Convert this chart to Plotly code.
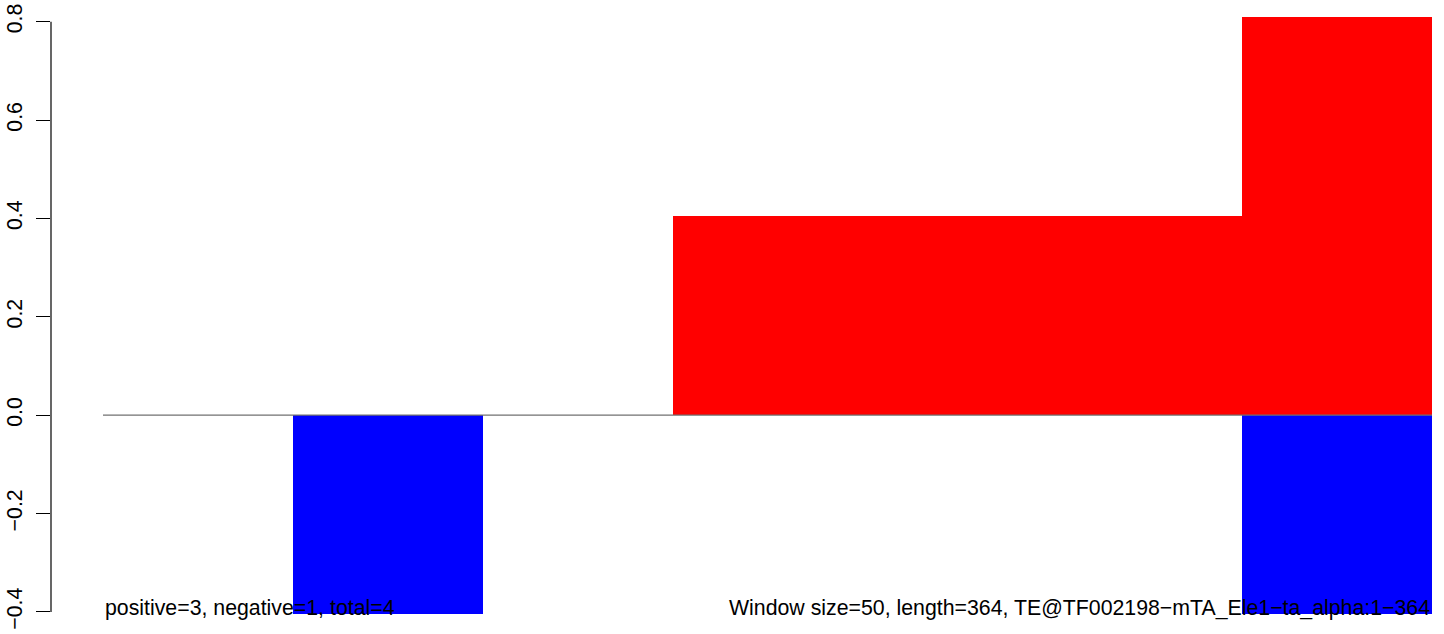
import plotly.graph_objects as go

# Data
window_starts = [0, 50, 100, 150, 200, 250, 300]
window_size = 50
positive_vals = [0, 0, 0, 0.405, 0.405, 0.405, 0.81]
negative_vals = [0, -0.405, 0, 0, 0, 0, -0.405]
y_tickvals = [-0.4, -0.2, 0.0, 0.2, 0.4, 0.6, 0.8]
y_ticktext = ["\u22120.4", "\u22120.2", "0.0", "0.2", "0.4", "0.6", "0.8"]
left_label = "positive=3, negative=1, total=4"
right_label = "Window size=50, length=364, TE@TF002198\u2212mTA_Ele1\u2212ta_alpha:1\u2212364"

centers = [s + window_size / 2 for s in window_starts]
x_end = window_starts[-1] + window_size

FONT = "Liberation Sans, Arial, Helvetica, sans-serif"
FS = 21.3

fig = go.Figure()

# zero line under the bars
fig.add_trace(go.Scatter(
    x=[0, x_end], y=[0, 0], mode="lines",
    line=dict(color="#707070", width=1.2),
    hoverinfo="skip", showlegend=False,
))

fig.add_trace(go.Bar(
    x=centers, y=positive_vals, width=window_size,
    marker=dict(color="#FF0000", line=dict(width=0)),
    showlegend=False,
))
fig.add_trace(go.Bar(
    x=centers, y=negative_vals, width=window_size,
    marker=dict(color="#0000FF", line=dict(width=0)),
    showlegend=False,
))

# left axis line spanning only the tick range
fig.add_shape(type="line", xref="paper", yref="y",
              x0=0, x1=0, y0=min(y_tickvals), y1=max(y_tickvals),
              line=dict(color="black", width=1.2))

fig.add_annotation(x=0, y=-0.392, xref="x", yref="y", text=left_label,
                   showarrow=False, xanchor="left", yanchor="middle",
                   font=dict(family=FONT, size=FS, color="black"))
fig.add_annotation(x=x_end, y=-0.392, xref="x", yref="y", text=right_label,
                   showarrow=False, xanchor="right", yanchor="middle",
                   font=dict(family=FONT, size=FS, color="black"))

fig.update_layout(
    width=1444, height=634,
    margin=dict(l=51, r=0, t=0, b=0, autoexpand=False),
    paper_bgcolor="white", plot_bgcolor="white",
    barmode="overlay",
    bargap=0,
    hovermode=False,
    font=dict(family=FONT, size=FS, color="black"),
    xaxis=dict(range=[-13.69, 353.16], visible=False, showgrid=False,
               zeroline=False, automargin=False),
    yaxis=dict(range=[-0.4448, 0.8441], showgrid=False, zeroline=False,
               automargin=False,
               showline=False, ticks="outside", ticklen=14, tickwidth=1.2,
               tickcolor="black", tickvals=y_tickvals, ticktext=y_ticktext,
               tickangle=-90, ticklabelstandoff=5,
               tickfont=dict(family=FONT, size=FS, color="black")),
)

fig.write_html("out.html",
               config={"displayModeBar": False},
               post_script="document.body.style.margin='0px';document.body.style.overflow='hidden';")
